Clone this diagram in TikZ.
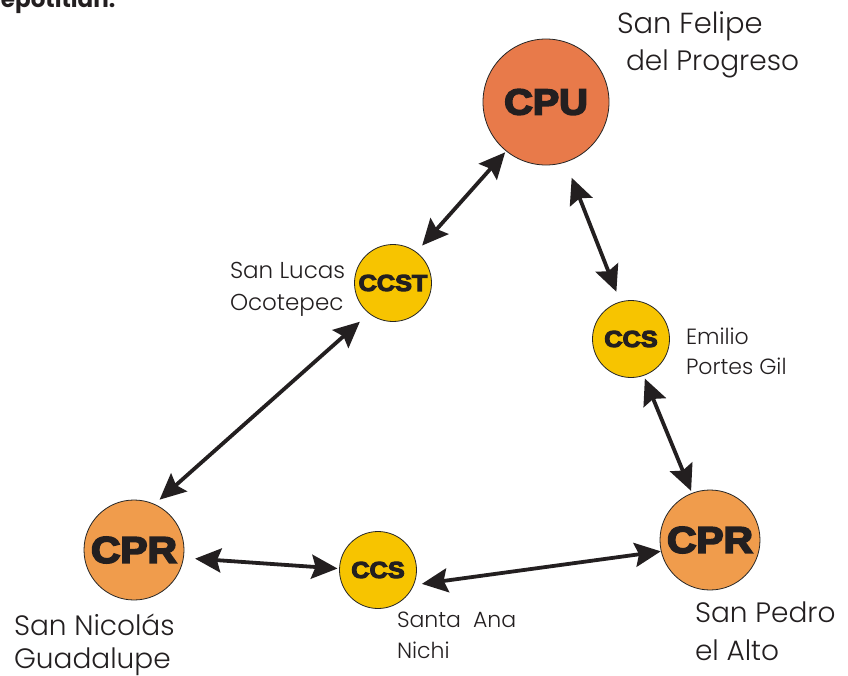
\documentclass[tikz,border=0pt]{standalone}
\usepackage{fontspec}
\setmainfont{Poppins Light}[BoldFont=Poppins Bold]
\newfontfamily\heavy[FakeBold=5,FakeStretch=1.1]{Liberation Sans Bold}
\usetikzlibrary{arrows.meta}
\definecolor{cpuc}{RGB}{232,122,74}
\definecolor{cprc}{RGB}{240,156,76}
\definecolor{ccsc}{RGB}{247,196,0}
\definecolor{arrc}{RGB}{35,31,32}
\definecolor{txtc}{RGB}{35,31,32}
\begin{document}
\begin{tikzpicture}[x=1pt,y=-1pt,
  hub/.style={circle,draw=black!85,line width=0.8pt,inner sep=0pt,outer sep=0pt,text=txtc},
  cpunode/.style={hub,fill=cpuc,minimum size=126pt,font=\heavy\fontsize{36}{40}\selectfont},
  cprnode/.style={hub,fill=cprc,minimum size=100pt,font=\heavy\fontsize{37}{40}\selectfont},
  ccsnode/.style={hub,fill=ccsc,minimum size=77pt,font=\heavy\fontsize{23}{28}\selectfont},
  lab/.style={anchor=base west,inner sep=0pt,outer sep=0pt,text=txtc},
  link/.style={{Stealth[length=26pt,width=24pt,inset=4pt]}-{Stealth[length=26pt,width=24pt,inset=4pt]},line width=3.8pt,draw=arrc}
]
\useasboundingbox (0,0) rectangle (848,675);
\clip (0,0) rectangle (848,675);
\fill[white] (0,0) rectangle (848,675);

% clipped heading
\node[lab,font=\bfseries\fontsize{23}{26}\selectfont] (head) at (1,7) {epotitlán.};

% hubs
\node[cpunode] (cpu) at (546,102) {CPU};
\node[ccsnode] (ccst) at (393,283) {CCST};
\node[ccsnode] (ccsr) at (631,339) {CCS};
\node[cprnode] (cprl) at (134,550) {CPR};
\node[ccsnode] (ccsb) at (378,570) {CCS};
\node[cprnode] (cprr) at (710,540) {CPR};

% labels
\node[lab,font=\fontsize{29}{34}\selectfont] (felipe1) at (617,33) {San Felipe};
\node[lab,font=\fontsize{28}{34}\selectfont] (felipe2) at (626,70) {del Progreso};
\node[lab,font=\fontsize{23}{28}\selectfont] (lucas1) at (230,278) {San Lucas};
\node[lab,font=\fontsize{23}{28}\selectfont] (lucas2) at (230,310) {Ocotepec};
\node[lab,font=\fontsize{22}{26}\selectfont] (emilio1) at (686,344) {Emilio};
\node[lab,font=\fontsize{22}{26}\selectfont] (emilio2) at (686,374) {Portes Gil};
\node[lab,font=\fontsize{28}{32}\selectfont] (nicolas1) at (14,635) {San Nicolás};
\node[lab,font=\fontsize{28}{32}\selectfont] (nicolas2) at (14,668) {Guadalupe};
\node[lab,font=\fontsize{22}{26}\selectfont] (ana1) at (397,627) {Santa\ \ Ana};
\node[lab,font=\fontsize{22}{26}\selectfont] (ana2) at (397,658) {Nichi};
\node[lab,font=\fontsize{28}{32}\selectfont] (pedro1) at (695,622) {San Pedro};
\node[lab,font=\fontsize{28}{32}\selectfont] (pedro2) at (695,660) {el Alto};

% links
\draw[link,shorten <=1.8pt,shorten >=9pt] (cpu.231.9) -- (ccst.53.6);
\draw[link,shorten <=17pt,shorten >=11pt] (cpu.288.9) -- (ccsr.106.6);
\draw[link,shorten <=12.6pt,shorten >=7pt] (ccst.232.2) -- (cprl.66.1);
\draw[link,shorten <=3.4pt,shorten >=2.6pt] (ccsr.289.7) -- (cprr.111.2);
\draw[link,shorten <=11.7pt,shorten >=2pt] (cprl.351.6) -- (ccsb.178.6);
\draw[link,shorten <=8.5pt,shorten >=0.5pt] (ccsb.337.8) -- (cprr.193.8);
\end{tikzpicture}
\end{document}
